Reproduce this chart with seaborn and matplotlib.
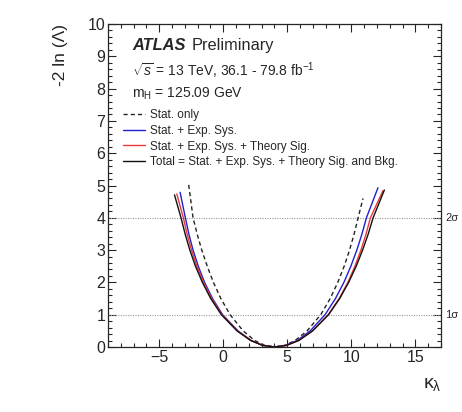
import numpy as np
import pandas as pd
import seaborn as sns
import matplotlib.pyplot as plt
from matplotlib.lines import Line2D
from matplotlib.ticker import MultipleLocator
import matplotlib.transforms as mtransforms

# -2 ln(Lambda) scan points (kappa_lambda, value)
stat_k = [-2.70, -2.36, -2.04, -1.68, -1.25, -0.77, -0.19, 0.53, 1.55, 2.45, 3.22, 4.0,
          4.81, 5.61, 6.55, 7.61, 8.35, 8.94, 9.44, 9.86, 10.22, 10.53, 10.91]
stat_y = [5.02, 4.0, 3.5, 3.0, 2.5, 2.0, 1.5, 1.0, 0.5, 0.2, 0.05, 0.0,
          0.05, 0.2, 0.5, 1.0, 1.5, 2.0, 2.5, 3.0, 3.5, 4.0, 4.60]

exp_k = [-3.37, -2.96, -2.69, -2.36, -1.95, -1.46, -0.84, -0.05, 1.14, 2.19, 3.09, 4.0,
         4.88, 5.77, 6.79, 7.95, 8.76, 9.42, 9.96, 10.43, 10.83, 11.18, 12.08]
exp_y = [4.79, 4.0, 3.5, 3.0, 2.5, 2.0, 1.5, 1.0, 0.5, 0.2, 0.05, 0.0,
         0.05, 0.2, 0.5, 1.0, 1.5, 2.0, 2.5, 3.0, 3.5, 4.0, 4.93]

thsig_k = [-3.63, -3.12, -2.83, -2.48, -2.06, -1.54, -0.91, -0.10, 1.10, 2.17, 3.08, 4.0,
           4.94, 5.88, 6.97, 8.20, 9.05, 9.73, 10.28, 10.75, 11.15, 11.49, 12.47]
thsig_y = [4.74, 4.0, 3.5, 3.0, 2.5, 2.0, 1.5, 1.0, 0.5, 0.2, 0.05, 0.0,
           0.05, 0.2, 0.5, 1.0, 1.5, 2.0, 2.5, 3.0, 3.5, 4.0, 4.84]

total_k = [-3.81, -3.30, -2.98, -2.61, -2.17, -1.63, -0.98, -0.15, 1.07, 2.14, 3.07, 4.0,
           4.94, 5.89, 6.98, 8.22, 9.09, 9.79, 10.38, 10.88, 11.32, 11.70, 12.58]
total_y = [4.71, 4.0, 3.5, 3.0, 2.5, 2.0, 1.5, 1.0, 0.5, 0.2, 0.05, 0.0,
           0.05, 0.2, 0.5, 1.0, 1.5, 2.0, 2.5, 3.0, 3.5, 4.0, 4.86]

labels = ["Stat. only",
          "Stat. + Exp. Sys.",
          "Stat. + Exp. Sys. + Theory Sig.",
          "Total = Stat. + Exp. Sys. + Theory Sig. and Bkg."]
colors = ["#222222", "#1f1fd0", "#e8383a", "#111111"]
sigma_levels = [1, 4]
sigma_labels = ["1\u03c3", "2\u03c3"]

sns.set_style("ticks")
plt.rcParams["font.family"] = ["Liberation Sans", "DejaVu Sans"]
plt.rcParams["mathtext.fontset"] = "custom"
plt.rcParams["mathtext.rm"] = "Liberation Sans"
plt.rcParams["mathtext.it"] = "Liberation Sans:italic"

frames = []
for lab, k, y in zip(labels, [stat_k, exp_k, thsig_k, total_k],
                     [stat_y, exp_y, thsig_y, total_y]):
    frames.append(pd.DataFrame({"kappa": k, "nll": y, "curve": lab}))
df = pd.concat(frames, ignore_index=True)

fig = plt.figure(figsize=(4.62, 4.12), dpi=100)
ax = fig.add_axes([0.2338, 0.1578, 0.7207, 0.7839])

# sigma reference lines
for lvl in sigma_levels:
    ax.axhline(lvl, color="#999999", lw=0.8, ls=(0, (1, 1.2)), zorder=1)

sns.lineplot(data=df, x="kappa", y="nll", hue="curve", style="curve",
             hue_order=labels, style_order=labels,
             palette=dict(zip(labels, colors)),
             dashes={labels[0]: (3, 2.2), labels[1]: "", labels[2]: "", labels[3]: ""},
             estimator=None, sort=True, lw=1.0, ax=ax, legend=False, zorder=3)

ax.set_xlim(-9, 17)
ax.set_ylim(0, 10)
ax.xaxis.set_major_locator(MultipleLocator(5))
ax.xaxis.set_minor_locator(MultipleLocator(1))
ax.yaxis.set_major_locator(MultipleLocator(1))
ax.yaxis.set_minor_locator(MultipleLocator(0.2))
ax.tick_params(which="both", direction="in", top=True, right=True,
               width=0.8, labelsize=11.5, pad=2)
ax.tick_params(which="major", length=6)
ax.tick_params(which="minor", length=3)
for sp in ax.spines.values():
    sp.set_linewidth(0.9)

ax.set_xlabel("")
ax.set_ylabel("")
fig.text(0.13, 0.942, "-2 ln (\u039b)", rotation=90, ha="center", va="top", fontsize=12.5)
fig.text(0.935, 0.045, r"$\mathrm{\kappa}_{\mathrm{\lambda}}$", ha="center", va="bottom",
         fontsize=14)

trans = mtransforms.blended_transform_factory(ax.transAxes, ax.transData)
for lvl, lab in zip(sigma_levels, sigma_labels):
    ax.text(1.012, lvl, lab, transform=trans, ha="left", va="center", fontsize=8)

ax.text(0.072, 0.932, "ATLAS", transform=ax.transAxes, fontsize=11.8,
        fontweight="bold", fontstyle="italic", va="center")
ax.text(0.252, 0.932, "Preliminary", transform=ax.transAxes, fontsize=11.8, va="center")
ax.text(0.072, 0.854, r"$\sqrt{s}$ = 13 TeV, 36.1 - 79.8 fb$^{-1}$", transform=ax.transAxes,
        fontsize=10, va="center")
ax.text(0.072, 0.783, r"m$_{\mathrm{H}}$ = 125.09 GeV", transform=ax.transAxes,
        fontsize=10, va="center")

handles = [Line2D([], [], color=colors[0], lw=1.0, ls=(0, (3, 2.2))),
           Line2D([], [], color=colors[1], lw=1.0),
           Line2D([], [], color=colors[2], lw=1.0),
           Line2D([], [], color=colors[3], lw=1.0)]
ax.legend(handles, labels, loc="upper left", bbox_to_anchor=(0.045, 0.737),
          frameon=False, fontsize=8.5, handlelength=1.9, handletextpad=0.4,
          labelspacing=0.32, borderaxespad=0, borderpad=0)

fig.savefig("out.png", dpi=100)
